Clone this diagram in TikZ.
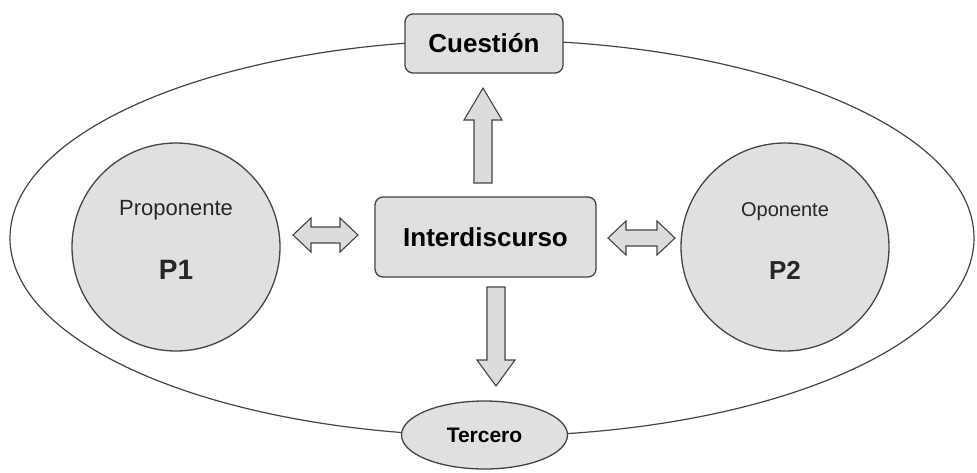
\documentclass[tikz,border=0pt]{standalone}
\usepackage{fontspec}
\setmainfont{Liberation Sans}
\usetikzlibrary{shapes.geometric}
\definecolor{edge}{HTML}{444444}
\definecolor{shade}{HTML}{E0E0E0}
\definecolor{arrowfill}{HTML}{DCDCDC}
\tikzset{
  box/.style={draw=edge, line width=1.3pt, fill=shade, rounded corners=8pt, inner sep=0pt},
  person/.style={draw=edge, line width=1.3pt, fill=shade, circle, minimum size=208pt, inner sep=0pt},
  blockarrow/.style={draw=edge, line width=1.1pt, fill=arrowfill, line join=miter},
  lbl/.style={font=\fontsize{#1}{#1}\selectfont, text=black!85}
}
\begin{document}
\begin{tikzpicture}[x=1pt, y=-1pt]
\useasboundingbox (0,0) rectangle (977,472);
% outer ellipse
\draw[edge, line width=1.2pt] (492,238) ellipse [x radius=482, y radius=198];
% participants
\node[person] (p1) at (176,247) {};
\node[lbl=22, anchor=center] (p1name) at (176,210) {Proponente};
\node[lbl=28, font=\fontsize{28}{28}\selectfont\bfseries] (p1tag) at (176,270) {P1};
\node[person] (p2) at (785,247) {};
\node[lbl=20] (p2name) at (785,212) {Oponente};
\node[lbl=26, font=\fontsize{26}{26}\selectfont\bfseries] (p2tag) at (785,270) {P2};
% question and interdiscourse boxes
\node[box, minimum width=158pt, minimum height=59pt, font=\fontsize{26}{26}\selectfont\bfseries] (q) at (484,43.5) {Cuestión};
\node[box, minimum width=221pt, minimum height=80pt, font=\fontsize{26}{26}\selectfont\bfseries] (i) at (485.5,237) {Interdiscurso};
% third party
\node[draw=edge, line width=1.3pt, fill=shade, ellipse, minimum width=166pt, minimum height=68pt, inner sep=0pt, font=\fontsize{21}{21}\selectfont\bfseries] (t) at (484.5,435) {Tercero};
% block arrows
\draw[blockarrow] (474,183) -- (474,120) -- (464,120) -- (483,88) -- (502,120) -- (492,120) -- (492,183) -- cycle;
\draw[blockarrow] (487,287) -- (487,360) -- (477,360) -- (496,386) -- (515,360) -- (505,360) -- (505,287) -- cycle;
\draw[blockarrow] (293,235) -- (311,218) -- (311,227) -- (340,227) -- (340,218) -- (358,235) -- (340,252) -- (340,243) -- (311,243) -- (311,252) -- cycle;
\draw[blockarrow] (608,238) -- (626,221) -- (626,230) -- (657,230) -- (657,221) -- (675,238) -- (657,255) -- (657,246) -- (626,246) -- (626,255) -- cycle;
\end{tikzpicture}
\end{document}
